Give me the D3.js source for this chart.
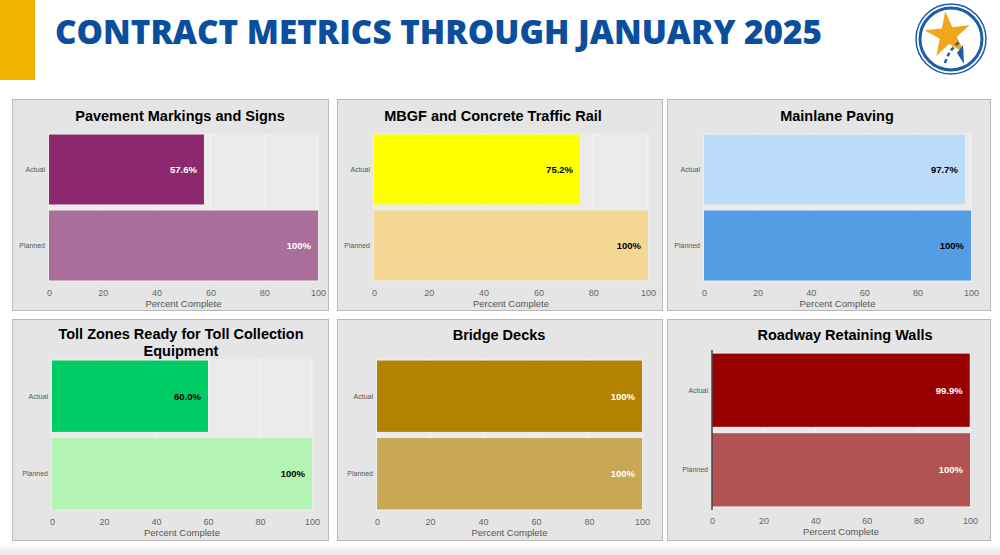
<!DOCTYPE html>
<html>
<head>
<meta charset="utf-8">
<script src="https://d3js.org/d3.v7.min.js"></script>
<style>
  html, body { margin: 0; padding: 0; background: #fff; }
  svg { display: block; }
</style>
</head>
<body>
<svg id="chart" width="1000" height="555"></svg>
<script>
// ── Data ──
const pageTitle = 'CONTRACT METRICS THROUGH JANUARY 2025';
const panelTitles = [
  ['Pavement Markings and Signs'],
  ['MBGF and Concrete Traffic Rail'],
  ['Mainlane Paving'],
  ['Toll Zones Ready for Toll Collection', 'Equipment'],
  ['Bridge Decks'],
  ['Roadway Retaining Walls'],
];
const categories = ['Actual', 'Planned'];
const actualValues = [57.6, 75.2, 97.7, 60.0, 100, 99.9];
const plannedValues = [100, 100, 100, 100, 100, 100];
const actualLabels = ['57.6%', '75.2%', '97.7%', '60.0%', '100%', '99.9%'];
const plannedLabels = ['100%', '100%', '100%', '100%', '100%', '100%'];
const xTicks = [0, 20, 40, 60, 80, 100];
const axisTitle = 'Percent Complete';

// ── Styles per panel ──
const actualColors  = ['#8C296E', '#FFFF00', '#BADCFA', '#00CC66', '#B38200', '#990000'];
const plannedColors = ['#AB6D9A', '#F4D792', '#539DE5', '#B3F4B3', '#C9A853', '#B35252'];
const labelColors   = ['#FFFFFF', '#000000', '#000000', '#000000', '#FFFFFF', '#FFFFFF'];

// box: panel rect; plot: [x0, x100, yTop, yBottom]; tx: title centre; ty: title baselines
const layout = [
  { box: [12, 99, 316, 211],  plot: [49, 318, 133, 282],  tx: 180, ty: [121],      tickY: 296, axY: 307 },
  { box: [337, 99, 325, 211], plot: [374, 648, 133, 282], tx: 493, ty: [121],      tickY: 296, axY: 307 },
  { box: [667, 99, 323, 211], plot: [704, 971, 133, 282], tx: 837, ty: [121],      tickY: 296, axY: 307 },
  { box: [12, 319, 316, 221], plot: [52, 312, 359, 511],  tx: 181, ty: [339, 356], tickY: 525, axY: 536 },
  { box: [337, 319, 325, 221],plot: [377, 642, 359, 511], tx: 499, ty: [340],      tickY: 525, axY: 536 },
  { box: [667, 319, 323, 221],plot: [712, 970, 352, 508], tx: 845, ty: [340],      tickY: 524, axY: 535, yLine: true },
];

const FONT = '"Liberation Sans", Arial, Helvetica, sans-serif';
const svg = d3.select('#chart');

// ── Header ──
svg.append('rect').attr('x', 0).attr('y', 0).attr('width', 35).attr('height', 80).attr('fill', '#F0B400');
svg.append('text').attr('x', 55).attr('y', 44)
  .attr('font-family', '"Open Sans", sans-serif').attr('font-weight', 800).attr('font-size', 33)
  .attr('fill', '#0B4E9D').attr('textLength', 767).attr('lengthAdjust', 'spacingAndGlyphs')
  .text(pageTitle);

// logo
const logo = svg.append('g').attr('transform', 'translate(951,39)');
logo.append('circle').attr('r', 35).attr('fill', '#fff').attr('stroke', '#1E5BA8').attr('stroke-width', 1.5);
logo.append('circle').attr('r', 31).attr('fill', '#fff').attr('stroke', '#1E5BA8').attr('stroke-width', 3);
const starPts = d3.range(10).map(i => {
  const a = -Math.PI / 2 + i * Math.PI / 5 - 0.12;
  const r = i % 2 ? 9 : 24;
  return [r * Math.cos(a) - 3, r * Math.sin(a) - 4];
});
logo.append('path').attr('d', 'M' + starPts.join('L') + 'Z').attr('fill', '#F2A71B');
logo.append('path').attr('d', 'M6,14 L12,6 L13,25 Z').attr('fill', '#1E5BA8');
logo.append('path').attr('d', 'M-6,24 Q-2,10 10,2').attr('fill', 'none')
  .attr('stroke', '#1E5BA8').attr('stroke-width', 2.5).attr('stroke-dasharray', '4,3');

// bottom shadow
const grad = svg.append('defs').append('linearGradient').attr('id', 'shade').attr('x1', 0).attr('y1', 0).attr('x2', 0).attr('y2', 1);
grad.append('stop').attr('offset', 0).attr('stop-color', '#fff');
grad.append('stop').attr('offset', 1).attr('stop-color', '#E6E6E6');
svg.append('rect').attr('x', 0).attr('y', 543).attr('width', 1000).attr('height', 12).attr('fill', 'url(#shade)');

// ── Panels ──
layout.forEach((L, i) => {
  const g = svg.append('g');
  const [bx, by, bw, bh] = L.box;
  const [px0, px1, py0, py1] = L.plot;

  g.append('rect').attr('x', bx + 0.5).attr('y', by + 0.5).attr('width', bw).attr('height', bh)
    .attr('fill', '#E5E5E5').attr('stroke', '#B9B9B9');

  const x = d3.scaleLinear().domain([0, 100]).range([px0, px1]);
  const y = d3.scaleBand().domain(categories).range([py0, py1]).paddingInner(0.08).paddingOuter(0.02);

  // plot background + grid
  g.append('rect').attr('x', px0).attr('y', py0).attr('width', px1 - px0).attr('height', py1 - py0)
    .attr('fill', '#EBEBEB');
  g.selectAll('.grid').data(xTicks).enter().append('line')
    .attr('x1', d => x(d)).attr('x2', d => x(d)).attr('y1', py0).attr('y2', py1)
    .attr('stroke', '#F6F6F6').attr('stroke-width', 1);

  // title
  g.selectAll('.title').data(panelTitles[i]).enter().append('text')
    .attr('x', L.tx).attr('y', (d, k) => L.ty[k])
    .attr('text-anchor', 'middle').attr('font-family', FONT).attr('font-weight', 700)
    .attr('font-size', 14.5).attr('fill', '#000').text(d => d);

  const rows = [
    { cat: categories[0], v: actualValues[i], label: actualLabels[i], color: actualColors[i] },
    { cat: categories[1], v: plannedValues[i], label: plannedLabels[i], color: plannedColors[i] },
  ];

  g.selectAll('.bar').data(rows).enter().append('rect')
    .attr('x', x(0)).attr('y', d => y(d.cat))
    .attr('width', d => x(d.v) - x(0)).attr('height', y.bandwidth())
    .attr('fill', d => d.color);

  g.selectAll('.val').data(rows).enter().append('text')
    .attr('x', d => x(d.v) - 7).attr('y', d => y(d.cat) + y.bandwidth() / 2)
    .attr('dy', '0.35em').attr('text-anchor', 'end')
    .attr('font-family', FONT).attr('font-weight', 700).attr('font-size', 9.5)
    .attr('fill', labelColors[i]).text(d => d.label);

  // y category labels
  g.selectAll('.cat').data(categories).enter().append('text')
    .attr('x', px0 - 4).attr('y', d => y(d) + y.bandwidth() / 2).attr('dy', '0.35em')
    .attr('text-anchor', 'end').attr('font-family', FONT).attr('font-size', 7)
    .attr('fill', '#555').text(d => d);

  if (L.yLine) {
    g.append('line').attr('x1', px0).attr('x2', px0).attr('y1', py0 - 2).attr('y2', py1 + 2)
      .attr('stroke', '#444').attr('stroke-width', 1.5);
  }

  // x axis
  const ax = g.append('g').attr('transform', `translate(0,${L.tickY})`)
    .call(d3.axisBottom(x).tickValues(xTicks).tickSize(0).tickPadding(0));
  ax.select('.domain').remove();
  ax.selectAll('text').attr('font-family', FONT).attr('font-size', 9).attr('fill', '#666').attr('dy', 0);

  g.append('text').attr('x', (px0 + px1) / 2).attr('y', L.axY)
    .attr('text-anchor', 'middle').attr('font-family', FONT).attr('font-size', 9.5)
    .attr('fill', '#555').text(axisTitle);
});
</script>
</body>
</html>
